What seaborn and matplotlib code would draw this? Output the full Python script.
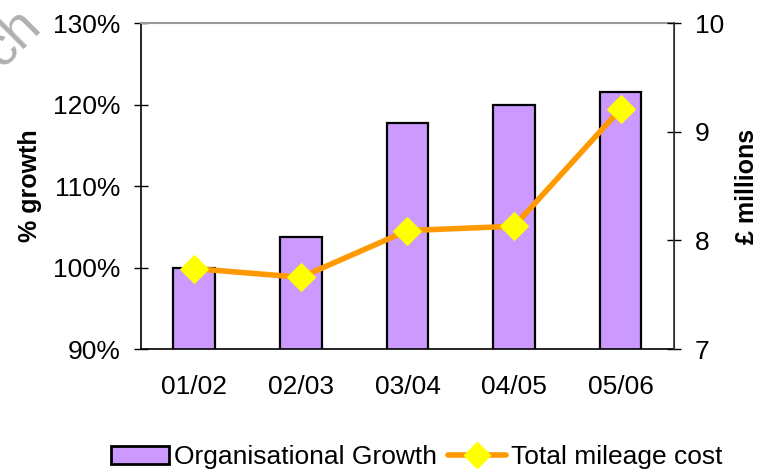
import numpy as np
import pandas as pd
import matplotlib
matplotlib.use('Agg')
import matplotlib.pyplot as plt
import seaborn as sns
from matplotlib.patches import Patch
from matplotlib.lines import Line2D

sns.set_style("white")
plt.rcParams['font.family'] = ['Liberation Sans', 'DejaVu Sans']
plt.rcParams['text.color'] = 'black'
plt.rcParams['axes.labelcolor'] = 'black'
plt.rcParams['xtick.color'] = 'black'
plt.rcParams['ytick.color'] = 'black'

# data
periods = ['01/02', '02/03', '03/04', '04/05', '05/06']
growth_pct = [100.0, 103.7, 117.7, 120.0, 121.5]
mileage_cost = [7.74, 7.66, 8.09, 8.13, 9.21]

df = pd.DataFrame({'period': periods, 'growth': growth_pct, 'cost': mileage_cost})

fig = plt.figure(figsize=(7.6, 4.7), dpi=100)
ax = fig.add_axes([0.1855, 0.2574, 0.7013, 0.6936])

# bars - organisational growth
sns.barplot(data=df, x='period', y='growth', color='#CC99FF', edgecolor='black',
            linewidth=1.6, width=0.39, saturation=1, ax=ax)
ax.set_ylim(90, 130)
ax.set_xlim(-0.5, len(periods) - 0.5)
ax.set_yticks([90, 100, 110, 120, 130])
ax.set_yticklabels(['90%', '100%', '110%', '120%', '130%'])
ax.set_xlabel('')
ax.set_ylabel('% growth', fontsize=18, fontweight='bold', labelpad=8)
ax.tick_params(axis='y', direction='inout', length=10, width=1, labelsize=19, pad=10)
ax.tick_params(axis='x', which='major', length=0, labelsize=19, pad=19)
ax.set_xticks(np.arange(len(periods) - 1) + 0.5, minor=True)
ax.tick_params(axis='x', which='minor', direction='out', length=9, width=1)

for side in ['left', 'bottom']:
    ax.spines[side].set_color('black')
    ax.spines[side].set_linewidth(1.2)
ax.spines['top'].set_color('#999999')
ax.spines['top'].set_linewidth(1.5)

# line - total mileage cost on secondary axis
ax2 = ax.twinx()
sns.lineplot(x=np.arange(len(periods)), y=df['cost'], ax=ax2, color='#FF9900',
             linewidth=4, marker='D', markersize=14, markerfacecolor='#FFFF00',
             markeredgecolor='#FFFF00', zorder=5)
ax2.set_ylim(7, 10)
ax2.set_yticks([7, 8, 9, 10])
ax2.set_ylabel('£ millions', fontsize=18, fontweight='bold', labelpad=8)
ax2.tick_params(axis='y', direction='inout', length=10, width=1, labelsize=19, pad=10)
ax2.spines['right'].set_color('#333333')
ax2.spines['right'].set_linewidth(1.2)
ax2.spines['top'].set_visible(False)
ax2.spines['left'].set_visible(False)
ax2.spines['bottom'].set_visible(False)

handles = [Patch(facecolor='#CC99FF', edgecolor='black', linewidth=2),
           Line2D([0], [0], color='#FF9900', linewidth=4, marker='D', markersize=13,
                  markerfacecolor='#FFFF00', markeredgecolor='#FFFF00')]
fig.legend(handles, ['Organisational Growth', 'Total mileage cost'], loc='center',
           bbox_to_anchor=(0.548, 0.027), ncol=2, frameon=False, fontsize=19,
           handlelength=2.2, handletextpad=0.2, columnspacing=0.4, borderaxespad=0)

# faint watermark fragment in the corner
fig.text(-0.035, 0.92, 'ch', fontsize=40, color='#B0B0B0', rotation=45,
         ha='left', va='center')

fig.savefig('out.png', dpi=100)
